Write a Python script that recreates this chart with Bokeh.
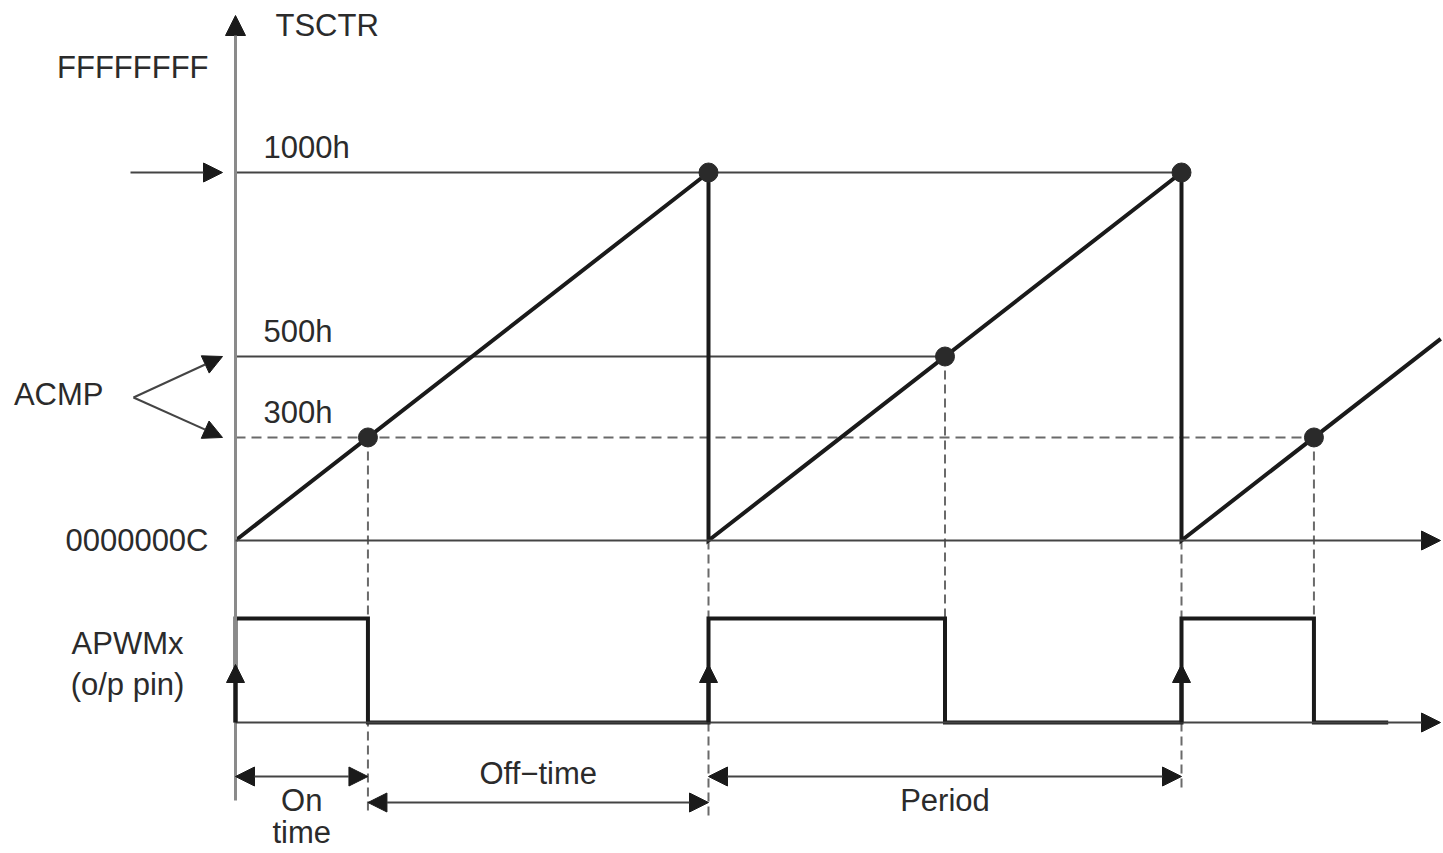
from bokeh.plotting import figure
from bokeh.models import ColumnDataSource, Range1d, Arrow, NormalHead
from bokeh.embed import file_html
from bokeh.resources import INLINE
from bokeh.core.properties import value

# ---------------- data (diagram units: time in periods, counter as fraction of 1000h) ----
period_starts = [0.0, 1.0, 2.0]            # TSCTR reset instants
acmp_levels = [0.28, 0.50, 0.28]           # ACMP compare value for each period (as drawn)
acmp_names = ["300h", "500h", "300h"]
period_value = 1.0                          # 1000h (period register)
level_names = ["0000000C", "300h", "500h", "1000h", "FFFFFFFF"]
level_values = [0.0, 0.28, 0.50, 1.00, 1.285]
last_ramp_end = 2.548                       # counter still running at right edge
last_pulse_end = 2.437                      # APWM trace ends here
dim_labels = ["On", "Off\u2212time", "Period"]

# ---------------- layout helpers (pixel placement of the drawing) ----------------
W, H = 1443, 853
OX, PXT = 235.0, 473.0      # page x of t=0, pixels per period
OY, PXC = 540.0, 368.0      # page y of counter 0, pixels per 1000h


def tx(px):
    return (px - OX) / PXT


def cy(py):
    return (OY - py) / PXC


LOW, HIGH = cy(722), cy(618)          # APWM trace levels
FONT = value("Liberation Sans")
FS = "31px"
TXT = "#2b2b2b"
THICK = "#1a1a1a"
THIN = "#444444"
DASH = "#6a6a6a"

p = figure(width=W, height=H, output_backend="svg", toolbar_location=None,
           x_range=Range1d(tx(0), tx(W)), y_range=Range1d(cy(H), cy(0)),
           min_border=0)
p.axis.visible = False
p.grid.visible = False
p.outline_line_color = None
p.background_fill_color = "white"

# derived quantities
t_cmp = [s + lv for s, lv in zip(period_starts, acmp_levels)]

# ---------------- thin level lines ----------------
lvl_1000_end = period_starts[-1]
lvl_500_end = max(t for t, lv in zip(t_cmp, acmp_levels) if lv == 0.50)
lvl_300_end = max(t for t, lv in zip(t_cmp, acmp_levels) if lv == 0.28)
p.segment(x0=[0, 0], y0=[period_value, 0.50], x1=[lvl_1000_end, lvl_500_end],
          y1=[period_value, 0.50], line_color=THIN, line_width=2)
p.segment(x0=[0], y0=[0.28], x1=[lvl_300_end], y1=[0.28],
          line_color=DASH, line_width=2, line_dash="10 6")

# ---------------- dashed verticals ----------------
v_x = t_cmp + period_starts[1:]
v_y0 = acmp_levels + [0.0, 0.0]
v_y1 = [cy(813), HIGH, HIGH, HIGH, HIGH]
p.segment(x0=v_x, y0=v_y0, x1=v_x, y1=v_y1, line_color=DASH, line_width=2,
          line_dash="9 5")
# dashed continuation below the APWM trace at reset instants
p.segment(x0=period_starts[1:], y0=[LOW, LOW], x1=period_starts[1:],
          y1=[cy(815), cy(787)], line_color=DASH, line_width=2, line_dash="9 5")


# ---------------- axes with arrows ----------------
def head(s):
    return NormalHead(size=s, fill_color=THICK, line_color=THICK, line_width=1)


p.add_layout(Arrow(end=head(20), x_start=0, y_start=cy(800), x_end=0, y_end=cy(15),
                   line_color="#8a8a8a", line_width=3))
ax_end = tx(1440)
p.add_layout(Arrow(end=head(19), x_start=0, y_start=0, x_end=ax_end, y_end=0,
                   line_color=THIN, line_width=2))
p.add_layout(Arrow(end=head(19), x_start=0, y_start=LOW, x_end=ax_end, y_end=LOW,
                   line_color=THIN, line_width=2))

# input arrows (1000h and ACMP)
in_src = ColumnDataSource(dict(
    x0=[tx(130), tx(133), tx(133)], y0=[period_value, cy(397), cy(397)],
    x1=[tx(222), tx(222), tx(222)], y1=[period_value, 0.50, 0.28]))
p.add_layout(Arrow(end=head(19), x_start="x0", y_start="y0", x_end="x1", y_end="y1",
                   source=in_src, line_color=THIN, line_width=2))

# ---------------- timer ramp ----------------
rx, ry = [period_starts[0]], [0.0]
for s in period_starts[1:]:
    rx += [s, s]
    ry += [period_value, 0.0]
rx.append(last_ramp_end)
ry.append(last_ramp_end - period_starts[-1])
p.line(rx, ry, line_color=THICK, line_width=4, line_join="miter")

# ---------------- APWM trace ----------------
px_, py_ = [], []
for s, tc in zip(period_starts, t_cmp):
    px_ += [s, s, tc, tc]
    py_ += [LOW, HIGH, HIGH, LOW]
px_.append(last_pulse_end)
py_.append(LOW)
p.line(px_, py_, line_color=THICK, line_width=4, line_join="miter")

# rising-edge arrows
up_src = ColumnDataSource(dict(x0=period_starts, y0=[LOW] * 3, x1=period_starts,
                               y1=[cy(664)] * 3))
p.add_layout(Arrow(end=head(18), x_start="x0", y_start="y0", x_end="x1", y_end="y1",
                   source=up_src, line_color=THICK, line_width=4))

# ---------------- match dots ----------------
dot_x = t_cmp + period_starts[1:]
dot_y = acmp_levels + [period_value, period_value]
p.scatter(dot_x, dot_y, size=19, fill_color="#2a2a2a", line_color="#2a2a2a")

# ---------------- dimension arrows ----------------
DIM_A, DIM_B = cy(776), cy(802)
dim_src = ColumnDataSource(dict(
    x0=[period_starts[0], t_cmp[0], period_starts[1]],
    x1=[t_cmp[0], period_starts[1], period_starts[2]],
    y=[DIM_A, DIM_B, DIM_A]))
p.add_layout(Arrow(start=head(19), end=head(19), x_start="x0", y_start="y",
                   x_end="x1", y_end="y", source=dim_src, line_color=THIN,
                   line_width=2))


# ---------------- texts ----------------
def txt(x, y, s, align="left", xo=0, yo=0):
    p.text(x=x, y=y, text=s, text_font=FONT, text_font_size=FS, text_color=TXT,
           text_align=align, text_baseline="middle", x_offset=xo, y_offset=yo)


# left-side hex values
txt([0, 0], [level_values[4], level_values[0]], [level_names[4], level_names[0]],
    align="right", xo=-27)
# labels above the level lines
txt([0, 0, 0], [level_values[3], level_values[2], level_values[1]],
    [level_names[3], level_names[2], level_names[1]], xo=28, yo=-25)
txt([0], [cy(25)], ["TSCTR"], xo=40)
txt([tx(133)], [cy(397)], ["ACMP"], align="right", xo=-30, yo=-3)
mid_apwm = (LOW + HIGH) / 2
txt([0], [mid_apwm], ["APWMx"], align="center", xo=-108, yo=-27)
txt([0], [mid_apwm], ["(o/p pin)"], align="center", xo=-108, yo=14)

on_mid = (period_starts[0] + t_cmp[0]) / 2
off_mid = (t_cmp[0] + period_starts[1]) / 2
per_mid = (period_starts[1] + period_starts[2]) / 2
txt([on_mid], [cy(800)], [dim_labels[0]], align="center")
txt([on_mid], [cy(832)], ["time"], align="center")
txt([off_mid], [cy(773)], [dim_labels[1]], align="center")
txt([per_mid], [cy(800)], [dim_labels[2]], align="center")

open("out.html", "w").write(file_html(p, INLINE))
